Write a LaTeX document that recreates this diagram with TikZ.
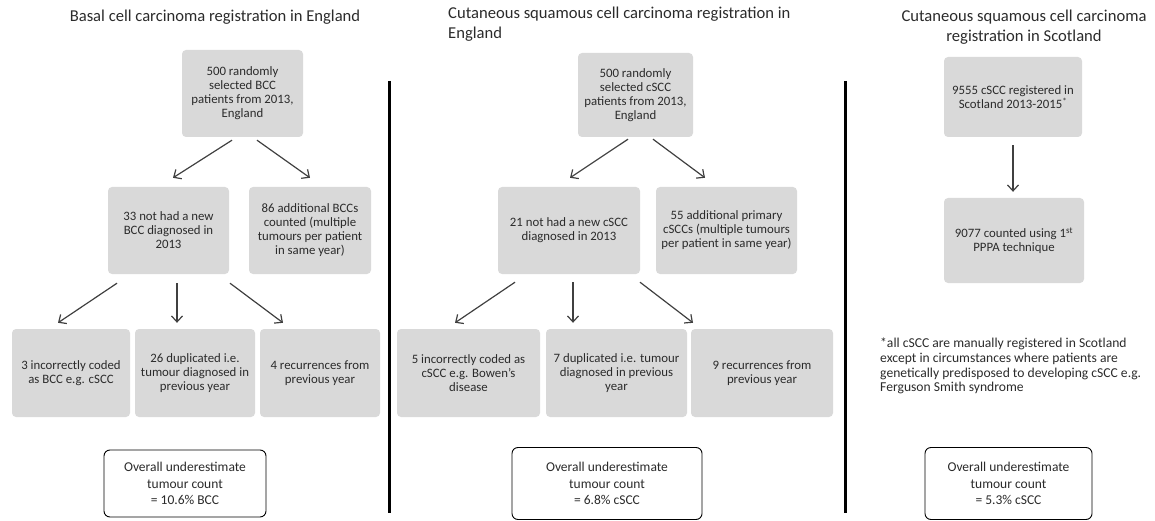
\documentclass[tikz,border=0pt]{standalone}
\usepackage{fontspec}
\setmainfont{Carlito}
\usetikzlibrary{arrows.meta,calc}
\definecolor{boxgray}{HTML}{D9D9D9}
\definecolor{txt}{HTML}{2B2B2B}
\definecolor{arrgray}{HTML}{404040}
\tikzset{
  graybox/.style={fill=boxgray, draw=none, rounded corners=4pt, align=center, inner sep=0pt,
    text=txt, font=\fontsize{12.8}{14}\selectfont},
  sumbox/.style={fill=white, draw=black, line width=0.9pt, rounded corners=6pt, align=center,
    inner sep=0pt, text=txt, font=\fontsize{13.5}{16.8}\selectfont},
  arr/.style={draw=arrgray, line width=1.2pt, -{Straight Barb[length=6pt,width=11pt,line width=1.2pt]}},
  divider/.style={draw=black, line width=3pt},
  titletext/.style={text=txt, font=\fontsize{16.6}{19.5}\selectfont, inner sep=0pt},
  notetext/.style={text=txt, font=\fontsize{13.6}{14.6}\selectfont, inner sep=0pt, align=left}
}
\begin{document}
\begin{tikzpicture}[x=1pt,y=-1pt]
\useasboundingbox (0,0) rectangle (1155,521);
% titles
\node[titletext] (T1) at (215,17) {Basal cell carcinoma registration in England};
\node[titletext, anchor=north west, align=left] (T2) at (448,7) {Cutaneous squamous cell carcinoma registration in\\England};
\node[titletext, align=center] (T3) at (1024,27) {Cutaneous squamous cell carcinoma\\registration in Scotland};
% dividers
\draw[divider] (389,81) -- (389,513);
\draw[divider] (845,81) -- (845,513);
% panel 1
\node[graybox, minimum width=121pt, minimum height=87pt] (A1) at (242.5,93.5) {500 randomly\\selected BCC\\patients from 2013,\\England};
\node[graybox, minimum width=121pt, minimum height=87pt] (B1) at (168.5,230.5) {33 not had a new\\BCC diagnosed in\\2013};
\node[graybox, minimum width=122pt, minimum height=87pt] (C1) at (310,230.5) {86 additional BCCs\\counted (multiple\\tumours per patient\\in same year)};
\node[graybox, minimum width=118pt, minimum height=88pt] (D1) at (71,373) {3 incorrectly coded\\as BCC e.g. cSCC};
\node[graybox, minimum width=120pt, minimum height=88pt] (E1) at (195,373) {26 duplicated i.e.\\tumour diagnosed in\\previous year};
\node[graybox, minimum width=120pt, minimum height=88pt] (F1) at (320,373) {4 recurrences from\\previous year};
\node[sumbox, minimum width=162pt, minimum height=67pt] (O1) at (185,483.5) {Overall underestimate\\tumour count\\= 10.6\% BCC};
\draw[arr] ($(A1.south)+(-10.5,3)$) -- ($(B1.north)+(4.5,-9)$);
\draw[arr] ($(A1.south)+(14.5,3)$) -- ($(C1.north)+(0,-9)$);
\draw[arr] ($(B1.south)+(-51.5,9)$) -- ($(D1.north)+(-13,-6)$);
\draw[arr] ($(B1.south)+(8.5,9)$) -- ($(E1.north)+(-18,-6)$);
\draw[arr] ($(B1.south)+(61.5,9)$) -- ($(F1.north)+(-37,-6)$);
% panel 2
\node[graybox, minimum width=115pt, minimum height=84pt] (A2) at (635.5,95) {500 randomly\\selected cSCC\\patients from 2013,\\England};
\node[graybox, minimum width=142pt, minimum height=87pt] (B2) at (569,230.5) {21 not had a new cSCC\\diagnosed in 2013};
\node[graybox, minimum width=141pt, minimum height=87pt] (C2) at (726.5,230.5) {55 additional primary\\cSCCs (multiple tumours\\per patient in same year)};
\node[graybox, minimum width=143pt, minimum height=88pt] (D2) at (468.5,373) {5 incorrectly coded as\\cSCC e.g. Bowen’s\\disease};
\node[graybox, minimum width=141pt, minimum height=88pt] (E2) at (616.5,373) {7 duplicated i.e. tumour\\diagnosed in previous\\year};
\node[graybox, minimum width=142pt, minimum height=88pt] (F2) at (762,373) {9 recurrences from\\previous year};
\node[sumbox, minimum width=190pt, minimum height=72pt] (O2) at (607,483.5) {Overall underestimate\\tumour count\\= 6.8\% cSCC};
\draw[arr] ($(A2.south)+(-7.5,2)$) -- ($(B2.north)+(1,-9)$);
\draw[arr] ($(A2.south)+(17.5,2)$) -- ($(C2.north)+(-21.5,-9)$);
\draw[arr] ($(B2.south)+(-54,8)$) -- ($(D2.north)+(-13.5,-6)$);
\draw[arr] ($(B2.south)+(4,8)$) -- ($(E2.north)+(-43.5,-6)$);
\draw[arr] ($(B2.south)+(71,8)$) -- ($(F2.north)+(-69,-6)$);
% panel 3
\node[graybox, minimum width=138pt, minimum height=80pt] (A3) at (1013,97) {9555 cSCC registered in\\Scotland 2013-2015\textsuperscript{*}};
\node[graybox, minimum width=140pt, minimum height=85pt] (B3) at (1014,240.5) {9077 counted using 1\textsuperscript{st}\\PPPA technique};
\draw[arr] ($(A3.south)+(0,8)$) -- ($(B3.north)+(-1,-6)$);
\node[notetext, anchor=north west] (N3) at (880,338) {*all cSCC are manually registered in Scotland\\except in circumstances where patients are\\genetically predisposed to developing cSCC e.g.\\Ferguson Smith syndrome};
\node[sumbox, minimum width=167pt, minimum height=72pt] (O3) at (1008.5,483.5) {Overall underestimate\\tumour count\\= 5.3\% cSCC};
\end{tikzpicture}
\end{document}
